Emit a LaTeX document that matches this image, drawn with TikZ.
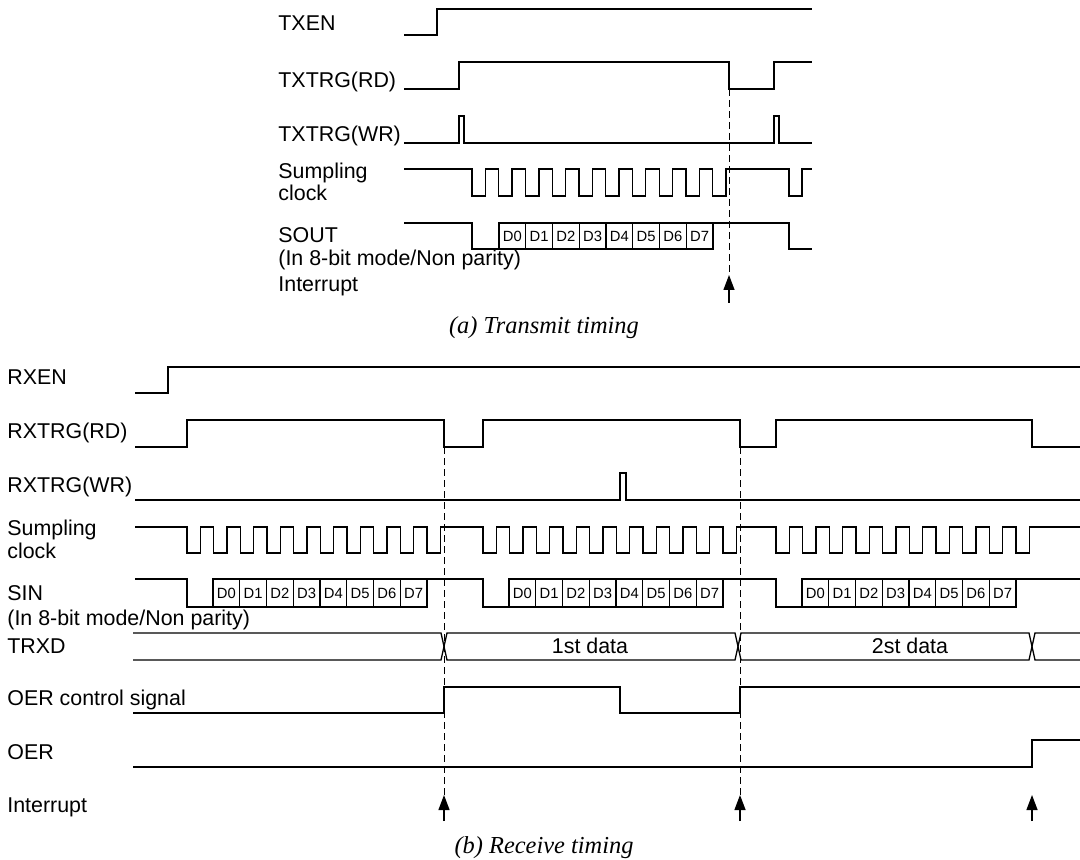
\documentclass[tikz,border=0pt]{standalone}
\usepackage{fontspec}
\setmainfont{Liberation Sans}
\newfontfamily\capfont{Liberation Serif}
\usetikzlibrary{arrows.meta}

\begin{document}
\begin{tikzpicture}[
  x=0.5pt,
  y=-0.5pt,
  sig/.style={line width=0.65pt},
  lbl/.style={anchor=base west, inner sep=0pt, font=\fontsize{10.7}{12}\selectfont},
  cell/.style={draw, line width=0.65pt, minimum width=13.375pt, inner sep=0pt, font=\fontsize{7.4}{8}\selectfont},
  guide/.style={line width=0.5pt, dash pattern=on 3.5pt off 2pt},
  irq/.style={-{Triangle[length=7.5pt,width=5.5pt]}, line width=0.65pt},
  caption/.style={font=\capfont\itshape\fontsize{12.2}{14}\selectfont}
]
  \useasboundingbox (0,0) rectangle (1080,860);

  % (a) transmit timing
  \node[lbl] (txen) at (278,31) {TXEN};
  \node[lbl] (txrd) at (278,88) {TXTRG(RD)};
  \node[lbl] (txwr) at (278,142) {TXTRG(WR)};
  \node[lbl] (txsmp) at (278,179) {Sumpling};
  \node[lbl] (txclk) at (278,201) {clock};
  \node[lbl] (sout) at (278,243) {SOUT};
  \node[lbl] (txmode) at (278,266) {(In 8-bit mode/Non parity)};
  \node[lbl] (txint) at (278,292) {Interrupt};

  \draw[sig] (404,35) -- (437,35) -- (437,9) -- (812,9);
  \draw[sig] (404,89) -- (459,89) -- (459,62) -- (729,62) -- (729,89) coordinate (txfall)
    -- (774,89) -- (774,62) -- (812,62);
  \draw[sig] (404,143) -- (459,143) -- (459,116) -- (464,116) -- (464,143) -- (774,143)
    -- (774,116) -- (779,116) -- (779,143) -- (812,143);
  \draw[sig] (404,169) -- (472,169) foreach \i in {0,...,9} {
      -- ({472+2*\i*13.37},169) -- ({472+2*\i*13.37},196)
      -- ({472+(2*\i+1)*13.37},196) -- ({472+(2*\i+1)*13.37},169) }
    -- (789,169) -- (789,196) -- (802,196) -- (802,169) -- (812,169);
  \draw[sig] (404,223) -- (472,223) -- (472,249) -- (713,249) -- (713,223) -- (789,223)
    -- (789,249) -- (812,249);
  \foreach \k in {0,...,7}
    \node[cell, minimum height=13pt] (tx\k) at ({512.375+26.75*\k},236) {D\k};

  \coordinate (txtip) at (729,275);
  \coordinate (txtail) at (729,303);
  \draw[guide] (txfall) -- (txtip);
  \draw[irq] (txtail) -- (txtip);

  \node[caption] (capa) at (544,328) {(a) Transmit timing};

  % (b) receive timing
  \node[lbl] (rxen) at (7,385) {RXEN};
  \node[lbl] (rxrd) at (7,438) {RXTRG(RD)};
  \node[lbl] (rxwr) at (7,492) {RXTRG(WR)};
  \node[lbl] (rxsmp) at (7,535) {Sumpling};
  \node[lbl] (rxclk) at (7,558) {clock};
  \node[lbl] (sin) at (7,600) {SIN};
  \node[lbl] (rxmode) at (7,625) {(In 8-bit mode/Non parity)};
  \node[lbl] (trxd) at (7,653) {TRXD};
  \node[lbl] (oerctl) at (7,705) {OER control signal};
  \node[lbl] (oer) at (7,759) {OER};
  \node[lbl] (rxint) at (7,812) {Interrupt};

  \draw[sig] (135,393) -- (168,393) -- (168,367) -- (1080,367);
  \draw[sig] (135,447) -- (187,447) -- (187,420) -- (444,420) -- (444,447) coordinate (rxfall1)
    -- (483,447) -- (483,420) -- (740,420) -- (740,447) coordinate (rxfall2)
    -- (776,447) -- (776,420) -- (1032,420) -- (1032,447) -- (1080,447);
  \draw[sig] (135,500) -- (620,500) -- (620,473) -- (626,473) -- (626,500) -- (1080,500);
  \draw[sig] (135,527) foreach \f in {187,483,776} {
      -- (\f,527) foreach \i in {0,...,9} {
        -- ({\f+2*\i*13.33},527) -- ({\f+2*\i*13.33},553)
        -- ({\f+(2*\i+1)*13.33},553) -- ({\f+(2*\i+1)*13.33},527) } }
    -- (1080,527);
  \draw[sig] (135,579) foreach \f in {187,483,776} {
      -- (\f,579) -- (\f,607) -- ({\f+240},607) -- ({\f+240},579) }
    -- (1080,579);
  \foreach \f [count=\n] in {187,483,776}
    \foreach \k in {0,...,7}
      \node[cell, minimum height=14pt] (rx\n-\k) at ({\f+39.375+26.75*\k},593) {D\k};

  \draw[sig] (133,633) -- (441,633) -- (447,660) -- (735,660) -- (741,633) -- (1029,633)
    -- (1035,660) -- (1080,660);
  \draw[sig] (133,660) -- (441,660) -- (447,633) -- (735,633) -- (741,660) -- (1029,660)
    -- (1035,633) -- (1080,633);
  \node[lbl, anchor=base] (data1) at (590,653) {1st data};
  \node[lbl, anchor=base] (data2) at (910,653) {2st data};

  \draw[sig] (133,713) -- (444,713) -- (444,687) -- (620,687) -- (620,713) -- (740,713)
    -- (740,687) -- (1080,687);
  \draw[sig] (133,767) -- (1032,767) -- (1032,740) -- (1080,740);

  \foreach \x [count=\n] in {444,740,1032} {
    \coordinate (rxtip\n) at (\x,795);
    \coordinate (rxtail\n) at (\x,821);
    \draw[irq] (rxtail\n) -- (rxtip\n);
  }
  \draw[guide] (rxfall1) -- (rxtip1);
  \draw[guide] (rxfall2) -- (rxtip2);

  \node[caption] (capb) at (544,848) {(b) Receive timing};
\end{tikzpicture}
\end{document}
